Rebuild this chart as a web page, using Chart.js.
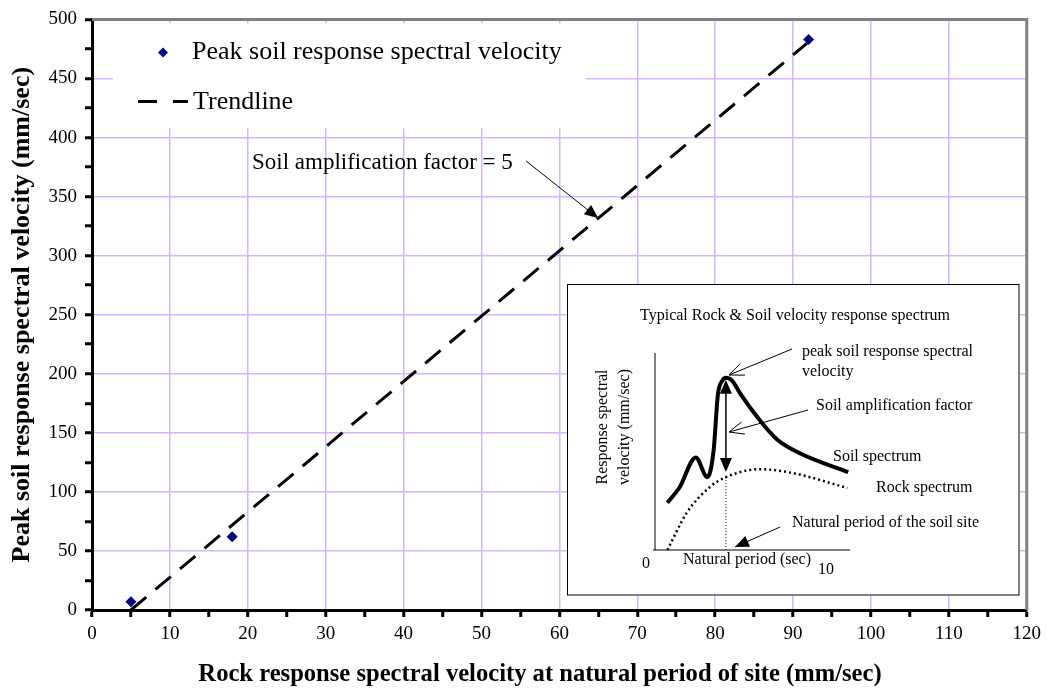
<!DOCTYPE html>
<html>
<head>
<meta charset="utf-8">
<script src="https://cdn.jsdelivr.net/npm/chart.js@4.4.1/dist/chart.umd.min.js"></script>
<style>
  body { margin: 0; background: #fff; }
  #wrap { position: relative; width: 1047px; height: 693px; }
  #inset { position: absolute; left: 567px; top: 284px; }
</style>
</head>
<body>
<div id="wrap">
  <canvas id="myChart" width="1047" height="693"></canvas>
  <canvas id="inset" width="453" height="312"></canvas>
</div>
<script>
// main chart data
var rockVelocity = [5, 18, 92];
var soilVelocity = [7, 62, 483];
var trendX = [5, 92];
var trendY = [0, 481];

// inset sketch data (period in sec, velocity in arbitrary units)
var soilPeriod = [0.7, 1.4, 2.3, 2.95, 3.3, 3.55, 3.8, 4.0, 4.35, 4.8, 5.9, 6.9, 8.2, 10.9];
var soilSpec   = [2.4, 3.2, 4.7, 3.7, 5.0, 7.9, 8.6, 8.75, 8.6, 7.95, 6.6, 5.6, 4.9, 3.95];
var rockPeriod = [0.7, 1.8, 3.1, 4.0, 5.9, 7.8, 10.85];
var rockSpec   = [0.0, 1.9, 3.2, 3.7, 4.1, 3.9, 3.15];
var naturalPeriod = 4.0;

var serif = '"Liberation Serif", "Times New Roman", serif';
var gridPurple = '#d6b4ff';

function pts(xs, ys) {
    return xs.map(function (x, i) { return { x: x, y: ys[i] }; });
}

function arrowHead(c, x1, y1, x2, y2, size, filled) {
    var a = Math.atan2(y2 - y1, x2 - x1);
    c.beginPath();
    c.moveTo(x2 - size * Math.cos(a - 0.4), y2 - size * Math.sin(a - 0.4));
    c.lineTo(x2, y2);
    c.lineTo(x2 - size * Math.cos(a + 0.4), y2 - size * Math.sin(a + 0.4));
    if (filled) { c.closePath(); c.fill(); } else { c.stroke(); }
}

function arrow(c, x1, y1, x2, y2, size, filled) {
    c.beginPath();
    c.moveTo(x1, y1);
    c.lineTo(x2, y2);
    c.stroke();
    arrowHead(c, x1, y1, x2, y2, size, filled);
}

var mainDecor = {
    id: 'mainDecor',
    beforeDatasetsDraw: function (chart) {
        var c = chart.ctx, a = chart.chartArea;
        c.save();
        // legend box (white, hides grid)
        c.fillStyle = '#fff';
        c.fillRect(a.left + 21, a.top + 4, 473, 105);
        c.restore();
    },
    afterDraw: function (chart) {
        var c = chart.ctx, a = chart.chartArea;
        var xs = chart.scales.x, ys = chart.scales.y;
        c.save();
        // gray top/right frame
        c.strokeStyle = '#808080';
        c.lineWidth = 3;
        c.beginPath();
        c.moveTo(a.left, a.top);
        c.lineTo(a.right, a.top);
        c.lineTo(a.right, a.bottom);
        c.stroke();

        // x axis title (sits a little left of centre in the original)
        c.fillStyle = '#000';
        c.textAlign = 'center';
        c.textBaseline = 'middle';
        c.font = 'bold 24.6px ' + serif;
        c.fillText('Rock response spectral velocity at natural period of site (mm/sec)', 540, 675);

        // legend
        c.fillStyle = '#000080';
        var dx = a.left + 71, dy = a.top + 33;
        c.beginPath();
        c.moveTo(dx, dy - 5); c.lineTo(dx + 5, dy); c.lineTo(dx, dy + 5); c.lineTo(dx - 5, dy);
        c.closePath(); c.fill();
        c.fillStyle = '#000';
        c.font = '26px ' + serif;
        c.textAlign = 'left';
        c.fillText('Peak soil response spectral velocity', a.left + 100, dy);
        c.strokeStyle = '#000';
        c.lineWidth = 3;
        c.setLineDash([19, 16]);
        c.beginPath();
        c.moveTo(a.left + 46, a.top + 82);
        c.lineTo(a.left + 96, a.top + 82);
        c.stroke();
        c.setLineDash([]);
        c.fillText('Trendline', a.left + 101, a.top + 83);

        // annotation
        c.font = '23px ' + serif;
        c.fillText('Soil amplification factor = 5', 252, 163);
        var tx = 65;
        var ty = trendY[0] + (trendY[1] - trendY[0]) * (tx - trendX[0]) / (trendX[1] - trendX[0]);
        c.lineWidth = 1;
        arrow(c, 526, 161, xs.getPixelForValue(tx), ys.getPixelForValue(ty), 15, true);
        c.restore();
    }
};

var ctx = document.getElementById('myChart').getContext('2d');
var chart = new Chart(ctx, {
    type: 'scatter',
    data: {
        datasets: [{
            label: 'Peak soil response spectral velocity',
            data: pts(rockVelocity, soilVelocity),
            pointStyle: 'rectRot',
            pointRadius: 5.5,
            backgroundColor: '#000080',
            borderColor: '#000080',
            borderWidth: 0
        }, {
            label: 'Trendline',
            data: pts(trendX, trendY),
            showLine: true,
            borderColor: '#000',
            borderWidth: 3,
            borderDash: [20, 12],
            pointRadius: 0
        }]
    },
    options: {
        responsive: false,
        animation: false,
        layout: { padding: { top: 18, right: 20, left: 0, bottom: 0 } },
        plugins: { legend: { display: false }, tooltip: { enabled: false } },
        scales: {
            x: {
                min: 0, max: 120,
                afterFit: function (s) { s.height = 83; },
                ticks: {
                    stepSize: 5, autoSkip: false, maxRotation: 0,
                    color: '#000', padding: 6,
                    font: { family: serif, size: 19 },
                    callback: function (v) { return v % 10 === 0 ? v : ''; }
                },
                grid: {
                    color: function (c) {
                        var v = c.tick && c.tick.value;
                        return (v % 10 === 0 && v > 0 && v < 120) ? gridPurple : 'rgba(0,0,0,0)';
                    },
                    lineWidth: 1.5,
                    tickColor: '#000', tickWidth: 3, tickLength: 7
                },
                border: { color: '#000', width: 3 },
                title: { display: false }
            },
            y: {
                min: 0, max: 500,
                afterFit: function (s) { s.width = 92; },
                ticks: {
                    stepSize: 25, autoSkip: false,
                    color: '#000', padding: 8,
                    font: { family: serif, size: 19 },
                    callback: function (v) { return v % 50 === 0 ? v : ''; }
                },
                grid: {
                    color: function (c) {
                        var v = c.tick && c.tick.value;
                        return (v % 50 === 0 && v > 0 && v < 500) ? gridPurple : 'rgba(0,0,0,0)';
                    },
                    lineWidth: 1.5,
                    tickColor: '#000', tickWidth: 3, tickLength: 7
                },
                border: { color: '#000', width: 3 },
                title: {
                    display: true,
                    text: 'Peak soil response spectral velocity (mm/sec)',
                    color: '#000',
                    font: { family: serif, size: 26, weight: 'bold' },
                    padding: { top: 7, bottom: 0 }
                }
            }
        }
    },
    plugins: [mainDecor]
});

// inset sketch
var insetDecor = {
    id: 'insetDecor',
    beforeDraw: function (ch) {
        var c = ch.ctx;
        c.save();
        c.fillStyle = '#fff';
        c.fillRect(0, 0, ch.width, ch.height);
        c.strokeStyle = '#000';
        c.lineWidth = 1;
        c.strokeRect(0.5, 0.5, ch.width - 1.5, ch.height - 1.5);
        var a = ch.chartArea;
        c.beginPath();
        c.moveTo(a.left, a.top);
        c.lineTo(a.left, a.bottom);
        c.lineTo(a.right, a.bottom);
        c.moveTo(a.left - 2, a.bottom);
        c.lineTo(a.left, a.bottom);
        c.stroke();
        c.restore();
    },
    afterDraw: function (ch) {
        var c = ch.ctx, a = ch.chartArea;
        var xs = ch.scales.x, ys = ch.scales.y;
        c.save();
        c.fillStyle = '#000';
        c.strokeStyle = '#000';
        c.font = '16px ' + serif;
        c.textBaseline = 'middle';
        c.textAlign = 'center';
        c.fillText('Typical Rock & Soil velocity response spectrum', 228, 32);
        c.fillText('0', 79, 280);
        c.fillText('10', 259, 286);
        c.fillText('Natural period (sec)', 180, 276);

        c.save();
        c.translate(36, 143);
        c.rotate(-Math.PI / 2);
        c.fillText('Response spectral', 0, 0);
        c.fillText('velocity (mm/sec)', 0, 22);
        c.restore();

        c.textAlign = 'left';
        c.fillText('peak soil response spectral', 235, 68);
        c.fillText('velocity', 235, 88);
        c.fillText('Soil amplification factor', 249, 122);
        c.fillText('Soil spectrum', 266, 173);
        c.fillText('Rock spectrum', 309, 204);
        c.fillText('Natural period of the soil site', 225, 239);

        c.lineWidth = 1;
        arrow(c, 225, 65, 162, 91, 16, false);
        arrow(c, 241, 126, 162, 148, 16, false);
        arrow(c, 213, 243, 168, 263, 15, true);

        // amplification double arrow at the natural period
        var px = xs.getPixelForValue(naturalPeriod);
        var yTop = ys.getPixelForValue(soilSpec[soilPeriod.indexOf(naturalPeriod)]) + 2;
        var yRock = ys.getPixelForValue(rockSpec[rockPeriod.indexOf(naturalPeriod)]);
        var yBot = yRock - 5;
        c.lineWidth = 1.5;
        c.beginPath(); c.moveTo(px, yTop + 8); c.lineTo(px, yBot - 8); c.stroke();
        c.beginPath(); c.moveTo(px, yTop); c.lineTo(px - 6, yTop + 14); c.lineTo(px + 6, yTop + 14); c.closePath(); c.fill();
        c.beginPath(); c.moveTo(px, yBot); c.lineTo(px - 6, yBot - 14); c.lineTo(px + 6, yBot - 14); c.closePath(); c.fill();
        c.lineWidth = 1;
        c.setLineDash([1, 2]);
        c.beginPath(); c.moveTo(px, yRock); c.lineTo(px, a.bottom); c.stroke();
        c.restore();
    }
};

var ictx = document.getElementById('inset').getContext('2d');
var inset = new Chart(ictx, {
    type: 'scatter',
    data: {
        datasets: [{
            label: 'Soil spectrum',
            data: pts(soilPeriod, soilSpec),
            showLine: true,
            borderColor: '#000',
            borderWidth: 4,
            cubicInterpolationMode: 'monotone',
            pointRadius: 0
        }, {
            label: 'Rock spectrum',
            data: pts(rockPeriod, rockSpec),
            showLine: true,
            borderColor: '#000',
            borderWidth: 2.5,
            borderDash: [2, 3],
            cubicInterpolationMode: 'monotone',
            pointRadius: 0
        }]
    },
    options: {
        responsive: false,
        animation: false,
        layout: { padding: { left: 88, right: 170, top: 69, bottom: 46 } },
        plugins: { legend: { display: false }, tooltip: { enabled: false } },
        scales: {
            x: { display: false, min: 0, max: 11 },
            y: { display: false, min: 0, max: 10 }
        }
    },
    plugins: [insetDecor]
});
</script>
</body>
</html>
